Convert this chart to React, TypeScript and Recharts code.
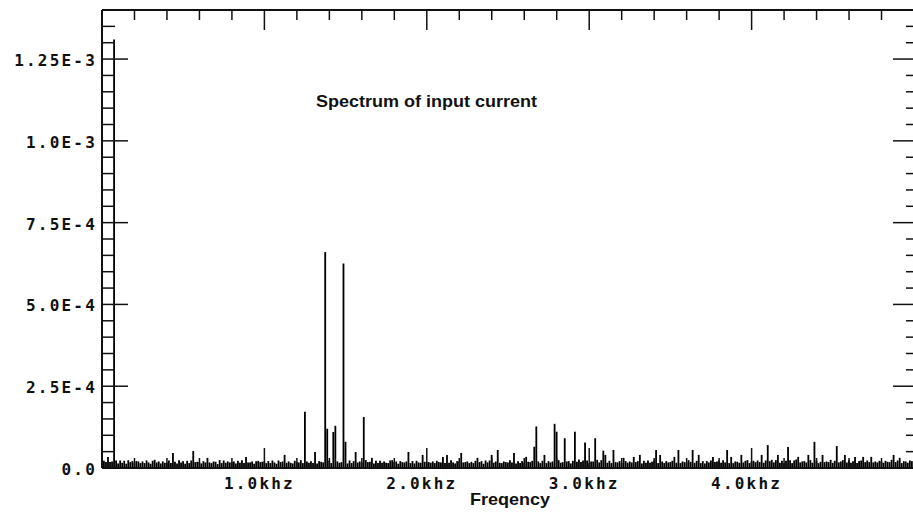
import React from 'react';
import { BarChart, Bar, XAxis, YAxis } from 'recharts';

const BIN_HZ = 12.5;

// noise floor, one value per 12.5 Hz bin from 0 to 5 kHz, in units of 1E-5
const floorE5 = [
  1.5, 2.2, 1.8, 3.4, 1.8, 2.0, 1.5, 2.3, 1.4, 2.3, 1.6, 2.2, 1.3, 2.4, 1.8, 2.1, 1.6, 2.1, 2.0, 1.5,
  2.0, 1.5, 2.3, 1.7, 1.3, 2.2, 2.5, 1.7, 2.0, 1.4, 2.0, 1.6, 1.6, 2.3, 1.5, 4.6, 1.9, 1.4, 2.4, 1.7,
  2.1, 1.3, 2.2, 1.5, 2.3, 5.2, 1.8, 1.9, 1.8, 1.4, 2.1, 1.7, 3.1, 1.7, 1.5, 2.0, 1.9, 1.2, 2.4, 1.5,
  2.3, 1.6, 2.0, 1.7, 1.8, 2.0, 1.4, 2.2, 1.6, 2.4, 1.5, 3.4, 1.7, 1.7, 2.0, 1.3, 2.1, 2.2, 1.8, 1.9,
  2.0, 1.5, 2.1, 1.5, 2.3, 1.7, 1.3, 2.3, 1.8, 2.0, 4.0, 1.6, 2.0, 1.6, 1.4, 2.2, 1.8, 1.7, 2.4, 1.5,
  1.7, 2.0, 1.6, 2.1, 1.5, 4.9, 1.4, 2.1, 1.9, 1.7, 2.4, 1.5, 2.2, 1.5, 2.0, 1.6, 2.0, 1.6, 1.8, 1.8,
  2.3, 1.4, 2.3, 1.5, 2.1, 4.9, 1.7, 2.0, 1.7, 1.5, 2.4, 1.8, 1.9, 3.1, 1.4, 2.2, 1.5, 2.2, 1.6, 2.0,
  1.6, 1.5, 2.3, 2.4, 1.8, 2.0, 1.3, 2.1, 1.8, 1.7, 2.0, 4.9, 1.5, 2.1, 1.4, 2.2, 1.7, 1.6, 4.0, 1.9,
  1.8, 1.8, 1.6, 2.0, 1.5, 2.2, 1.8, 1.7, 3.4, 1.5, 4.0, 1.6, 2.4, 1.7, 1.4, 2.1, 2.0, 4.6, 1.7, 1.8,
  2.0, 1.5, 1.9, 1.5, 2.2, 3.1, 1.8, 2.1, 1.3, 2.3, 1.7, 2.3, 4.0, 1.6, 2.0, 5.5, 1.6, 1.5, 2.0, 1.8,
  1.7, 2.4, 1.7, 4.6, 1.4, 2.1, 1.5, 2.1, 1.6, 3.4, 1.9, 1.8, 2.2, 1.6, 1.8, 2.0, 1.5, 2.2, 4.0, 1.5,
  2.1, 1.7, 2.0, 1.7, 2.3, 2.4, 1.6, 1.8, 1.5, 2.0, 2.1, 1.4, 2.2, 1.5, 1.9, 2.6, 1.8, 2.3, 1.6, 2.3,
  1.5, 2.0, 2.0, 1.7, 2.5, 1.7, 2.4, 5.3, 4.0, 1.6, 2.2, 1.5, 5.5, 1.8, 1.7, 2.1, 1.5, 3.1, 2.1, 1.6,
  2.0, 1.7, 3.4, 1.8, 2.1, 4.0, 1.4, 2.2, 1.6, 2.3, 1.6, 1.9, 2.3, 5.5, 1.5, 4.0, 2.0, 1.5, 2.1, 1.7,
  1.8, 2.2, 3.4, 1.6, 5.5, 1.5, 2.0, 1.8, 1.7, 2.4, 1.9, 5.5, 1.6, 2.2, 4.0, 1.5, 2.1, 1.4, 2.1, 1.7,
  2.3, 3.4, 1.8, 2.0, 2.3, 1.6, 2.4, 1.7, 5.5, 1.5, 3.4, 1.5, 2.0, 1.9, 1.6, 4.0, 1.7, 2.2, 2.4, 1.5,
  2.0, 2.2, 1.8, 2.3, 1.8, 4.0, 1.6, 2.3, 7.0, 2.1, 2.5, 1.7, 2.4, 4.0, 1.6, 2.2, 1.5, 2.2, 6.4, 2.4,
  1.5, 2.3, 2.6, 3.4, 1.7, 2.0, 2.1, 1.7, 4.0, 2.4, 1.6, 8.0, 2.3, 1.5, 1.9, 4.0, 1.8, 2.0, 1.8, 2.5,
  1.6, 2.2, 6.7, 1.7, 2.0, 2.4, 4.0, 1.7, 2.4, 1.6, 2.1, 3.4, 1.5, 2.1, 2.3, 3.4, 1.8, 2.3, 1.8, 3.4,
  1.7, 2.0, 1.7, 2.2, 2.0, 1.6, 2.2, 1.9, 1.8, 2.5, 4.0, 1.8, 2.3, 3.1, 1.5, 2.1, 2.0, 1.6, 2.3, 2.1,
  1.7,
];

// harmonics standing out of the floor
const peakHz = [75, 1250, 1375, 1387.5, 1425, 1437.5, 1487.5, 1500, 1612.5, 2662.5, 2675, 2787.5, 2800, 2850, 2912.5, 2975, 3037.5];
const peakE5 = [131, 17.2, 66.0, 12, 11, 12.9, 62.5, 8, 15.6, 6.5, 12.7, 13.5, 11.1, 9.1, 11.1, 7.8, 9.1];

const xTickLabels = ['1.0khz', '2.0khz', '3.0khz', '4.0khz'];
const xLabelHz = [1000, 2000, 3000, 4000];
const yTickLabels = ['0.0', '2.5E-4', '5.0E-4', '7.5E-4', '1.0E-3', '1.25E-3'];
const yLabelValues = [0, 2.5e-4, 5e-4, 7.5e-4, 1e-3, 1.25e-3];

const data = floorE5.map((v, i) => ({ f: i * BIN_HZ, v: v * 1e-5 }));
peakHz.forEach((hz, k) => {
  data[Math.round(hz / BIN_HZ)].v = peakE5[k] * 1e-5;
});

const xTicks = Array.from({ length: 26 }, (_, k) => k * 200);
const yTicks = Array.from({ length: 29 }, (_, k) => k * 5e-5);

const INK = '#111';
const monoFont = '"DejaVu Sans Mono", monospace';

const isMajorX = (v: number) => Math.round(v) % 1000 === 0;
const yLabelIndex = (v: number) => yLabelValues.findIndex((t) => Math.abs(t - v) < 1e-9);

const TopTick = ({ x, y, payload }: any) => (
  <line x1={x} x2={x} y1={y} y2={y + (isMajorX(payload.value) ? 20 : 10)} stroke={INK} strokeWidth={1.5} />
);

const BottomTick = ({ x, y, payload }: any) => {
  const idx = xLabelHz.indexOf(Math.round(payload.value));
  return (
    <g>
      <line x1={x} x2={x} y1={y} y2={y - (isMajorX(payload.value) ? 20 : 10)} stroke={INK} strokeWidth={1.5} />
      {idx >= 0 && (
        <text x={x - 5} y={y + 21} textAnchor="middle" fontFamily={monoFont} fontWeight="bold" fontSize={16}
          letterSpacing={2.2} fill={INK}>
          {xTickLabels[idx]}
        </text>
      )}
    </g>
  );
};

const LeftTick = ({ x, y, payload }: any) => {
  const idx = yLabelIndex(payload.value);
  return (
    <g>
      <line x1={x} x2={x + (idx >= 0 ? 26 : 13)} y1={y} y2={y} stroke={INK} strokeWidth={1.5} />
      {idx >= 0 && (
        <text x={x - 5} y={y + 7} textAnchor="end" fontFamily={monoFont} fontWeight="bold" fontSize={16}
          letterSpacing={2.2} fill={INK}>
          {yTickLabels[idx]}
        </text>
      )}
    </g>
  );
};

const RightTick = ({ x, y, payload }: any) => (
  <line x1={x} x2={x - (yLabelIndex(payload.value) >= 0 ? 21 : 8)} y1={y} y2={y} stroke={INK} strokeWidth={1.5} />
);

const axisLine = { stroke: INK, strokeWidth: 2 };

const App = () => {
  return (
    <div style={{ position: 'absolute', left: 0, top: 0, width: 913, height: 515, overflow: 'hidden', background: '#fff' }}>
      <BarChart width={916} height={515} data={data} margin={{ top: 9, right: 1, left: 101, bottom: 46 }}
        barCategoryGap={0} barGap={0}>
        <XAxis xAxisId="bottom" dataKey="f" type="number" domain={[0, 5000]} ticks={xTicks} interval={0}
          height={1} tickSize={0} tickMargin={0} tickLine={false} axisLine={axisLine} tick={<BottomTick />} />
        <XAxis xAxisId="top" orientation="top" dataKey="f" type="number" domain={[0, 5000]} ticks={xTicks} interval={0}
          height={1} tickSize={0} tickMargin={0} tickLine={false} axisLine={axisLine} tick={<TopTick />} />
        <YAxis yAxisId="left" type="number" domain={[0, 1.4e-3]} allowDataOverflow ticks={yTicks} interval={0}
          width={1} tickSize={0} tickMargin={0} tickLine={false} axisLine={axisLine} tick={<LeftTick />} />
        <YAxis yAxisId="right" orientation="right" type="number" domain={[0, 1.4e-3]} allowDataOverflow ticks={yTicks}
          interval={0} width={1} tickSize={0} tickMargin={0} tickLine={false} axisLine={axisLine} tick={<RightTick />} />
        <Bar xAxisId="bottom" yAxisId="left" dataKey="v" fill="#000" barSize={2.2} isAnimationActive={false} />
      </BarChart>
      <svg width={913} height={515} style={{ position: 'absolute', left: 0, top: 0, pointerEvents: 'none' }}>
        <text x={316} y={107} fontFamily='"Liberation Sans", Arial, sans-serif' fontWeight="bold" fontSize={16}
          textLength={221} lengthAdjust="spacingAndGlyphs" fill={INK}>
          Spectrum of input current
        </text>
        <text x={470} y={505} fontFamily='"Liberation Sans", Arial, sans-serif' fontWeight="bold" fontSize={17}
          textLength={80} lengthAdjust="spacingAndGlyphs" fill={INK}>
          Freqency
        </text>
      </svg>
    </div>
  );
};

export default App;
